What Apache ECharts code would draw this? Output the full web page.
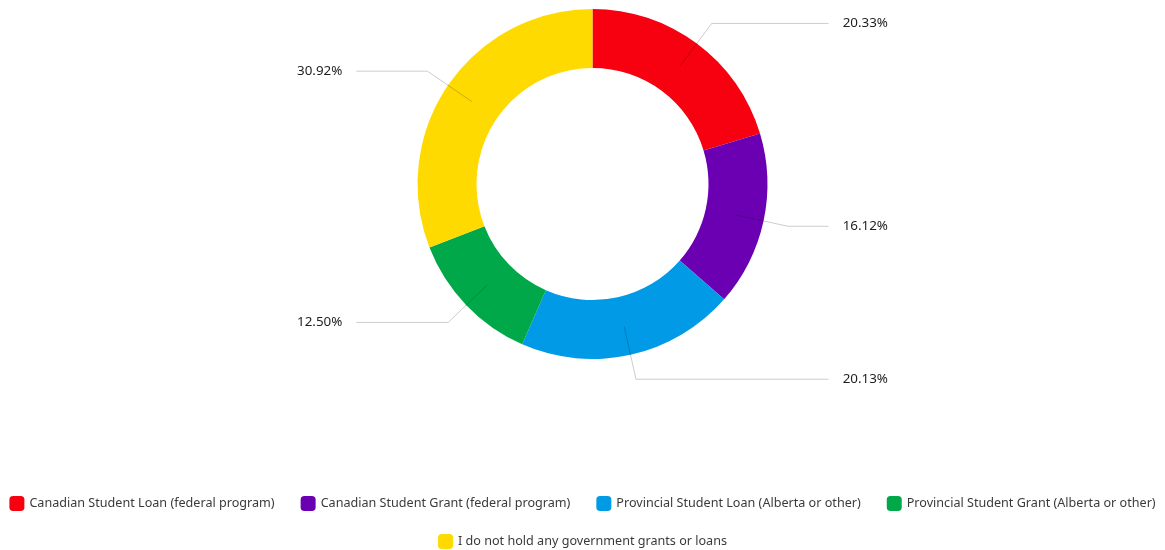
<!DOCTYPE html>
<html>
<head>
<meta charset="utf-8">
<script src="https://cdn.jsdelivr.net/npm/echarts@6/dist/echarts.min.js"></script>
<style>
  html, body { margin: 0; padding: 0; background: #fff; }
</style>
</head>
<body>
<div id="main" style="width: 1165px; height: 550px;"></div>
<script>
// 数据
const categories = [
  'Canadian Student Loan (federal program)',
  'Canadian Student Grant (federal program)',
  'Provincial Student Loan (Alberta or other)',
  'Provincial Student Grant (Alberta or other)',
  'I do not hold any government grants or loans'
];
const shares = [20.33, 16.12, 20.13, 12.50, 30.92];
const colors = ['#f7000f', '#6b00b3', '#009ae6', '#00a84a', '#ffda00'];

const font = '"Noto Sans", sans-serif';

const ringData = categories.map((name, i) => ({
  name: name,
  value: shares[i],
  itemStyle: { color: colors[i] }
}));

// 透明的一层，只用来画从环中间引出的标签线
const labelData = categories.map((name, i) => ({
  name: name,
  value: shares[i]
}));

const legendText = { fontFamily: font, fontSize: 12.6, color: '#3a3a3a' };

const myChart = echarts.init(document.getElementById('main'));
const option = {
  animation: false,
  legend: [
    {
      data: categories.slice(0, 4),
      left: 'center',
      top: 496,
      width: 1165,
      padding: 0,
      itemWidth: 15,
      itemHeight: 15,
      itemGap: 26,
      icon: 'roundRect',
      textStyle: legendText
    },
    {
      data: categories.slice(4),
      left: 'center',
      top: 534,
      padding: 0,
      itemWidth: 15,
      itemHeight: 15,
      icon: 'roundRect',
      textStyle: legendText
    }
  ],
  series: [
    {
      name: 'ring',
      type: 'pie',
      left: 20,
      right: 0,
      center: ['50%', 184],
      radius: [116, 175],
      startAngle: 90,
      label: { show: false },
      labelLine: { show: false },
      emphasis: { scale: false },
      data: ringData
    },
    {
      name: 'labels',
      type: 'pie',
      left: 20,
      right: 0,
      center: ['50%', 184],
      radius: [145, 146],
      startAngle: 90,
      z: 5,
      silent: true,
      itemStyle: { color: 'transparent' },
      label: {
        show: true,
        alignTo: 'edge',
        edgeDistance: 277,
        distanceToLabelLine: 14,
        fontFamily: font,
        fontSize: 13.4,
        color: '#1e1e1e',
        padding: [3, 0, 0, 0],
        formatter: p => p.value.toFixed(2) + '%'
      },
      labelLine: {
        show: true,
        length: 54,
        length2: 10,
        lineStyle: { color: 'rgba(0,0,0,0.2)', width: 1 }
      },
      data: labelData
    }
  ]
};
myChart.setOption(option);
</script>
</body>
</html>
